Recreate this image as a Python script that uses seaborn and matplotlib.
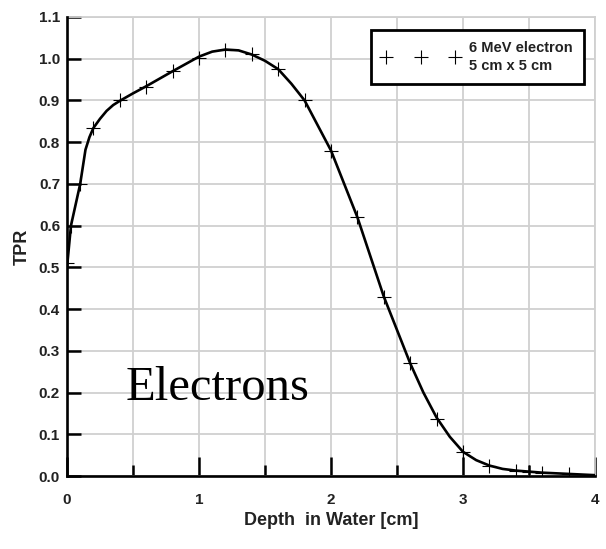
import matplotlib
matplotlib.use("Agg")
import matplotlib.pyplot as plt
from matplotlib.lines import Line2D
from matplotlib.ticker import MultipleLocator, FormatStrFormatter
import seaborn as sns
import pandas as pd

# ---- data ----
marker_depth = [0.0, 0.03, 0.1, 0.2, 0.4, 0.6, 0.8, 1.0, 1.2, 1.4, 1.6, 1.8,
                2.0, 2.2, 2.4, 2.6, 2.8, 3.0, 3.2, 3.4, 3.5, 3.6, 3.8]
marker_tpr = [0.51, 0.60, 0.70, 0.835, 0.90, 0.933, 0.97, 1.002, 1.02, 1.012,
              0.975, 0.90, 0.78, 0.62, 0.43, 0.27, 0.137, 0.057, 0.025, 0.012,
              0.010, 0.008, 0.005]

curve_depth = [0.0, 0.03, 0.1, 0.14, 0.17, 0.2, 0.25, 0.3, 0.35, 0.4, 0.5,
               0.6, 0.8, 1.0, 1.1, 1.2, 1.3, 1.4, 1.5, 1.6, 1.7, 1.8, 2.0,
               2.2, 2.4, 2.6, 2.7, 2.8, 2.9, 3.0, 3.1, 3.2, 3.3, 3.4, 3.6,
               3.8, 4.0]
curve_tpr = [0.50, 0.60, 0.70, 0.782, 0.812, 0.834, 0.856, 0.875, 0.889,
             0.899, 0.917, 0.934, 0.97, 1.005, 1.017, 1.022, 1.02, 1.01,
             0.995, 0.975, 0.94, 0.90, 0.78, 0.62, 0.43, 0.27, 0.20, 0.14,
             0.094, 0.058, 0.038, 0.025, 0.017, 0.013, 0.008, 0.005, 0.002]

legend_label = "6 MeV electron\n5 cm x 5 cm"
x_label = "Depth  in Water [cm]"
y_label = "TPR"
annotation = "Electrons"

curve_df = pd.DataFrame({"depth": curve_depth, "tpr": curve_tpr})
marker_df = pd.DataFrame({"depth": marker_depth, "tpr": marker_tpr})

sns.set_style("white")
plt.rcParams["font.family"] = ["Liberation Sans", "DejaVu Sans"]

fig = plt.figure(figsize=(6.06, 5.49), dpi=100)
ax = fig.add_axes([67 / 606, 1 - 476 / 549, 528 / 606, 459 / 549])

grid_color = "#d0d0d0"

sns.lineplot(data=curve_df, x="depth", y="tpr", ax=ax, color="black",
             linewidth=1.9, zorder=3)
sns.scatterplot(data=marker_df, x="depth", y="tpr", ax=ax, marker="+",
                color="black", s=110, linewidth=0.8, zorder=4)

ax.set_xlim(0, 4)
ax.set_ylim(0, 1.1)

ax.xaxis.set_major_locator(MultipleLocator(1))
ax.xaxis.set_minor_locator(MultipleLocator(0.5))
ax.yaxis.set_major_locator(MultipleLocator(0.1))
ax.yaxis.set_major_formatter(FormatStrFormatter("%.1f"))
ax.xaxis.set_major_formatter(FormatStrFormatter("%d"))

ax.grid(True, which="both", color=grid_color, linewidth=1.3, zorder=0)
ax.set_axisbelow(True)

ax.tick_params(axis="x", which="major", direction="in", length=14, width=1.8,
               color="black", pad=12, labelsize=11, bottom=True)
ax.tick_params(axis="x", which="minor", direction="in", length=8, width=1.8,
               color="black", bottom=True)
ax.tick_params(axis="y", which="major", direction="in", length=10, width=1.8,
               color="black", pad=5, labelsize=11, left=True)
for lab in ax.get_xticklabels() + ax.get_yticklabels():
    lab.set_fontweight("bold")
    lab.set_color("#222222")

for side in ("left", "bottom"):
    ax.spines[side].set_color("black")
    ax.spines[side].set_linewidth(1.9)
    ax.spines[side].set_zorder(5)
for side in ("top", "right"):
    ax.spines[side].set_color(grid_color)
    ax.spines[side].set_linewidth(1.3)

ax.set_xlabel(x_label, fontsize=13, fontweight="bold", labelpad=4,
              color="#222222")
ax.set_ylabel(y_label, fontsize=13, fontweight="bold", labelpad=6,
              color="#222222")

ax.text(0.44, 0.182, annotation, family=["Liberation Serif", "DejaVu Serif"],
        fontsize=35, ha="left", va="baseline", color="black", zorder=6)

handle = Line2D([], [], linestyle="none", marker="+", color="black",
                markersize=10, markeredgewidth=0.8)
leg = ax.legend([handle], [legend_label], loc="upper right",
                bbox_to_anchor=((584 - 67) / 528, (476 - 30) / 459),
                borderaxespad=0, numpoints=3, handlelength=5.3,
                handletextpad=0.7, borderpad=0.75, fancybox=False,
                framealpha=1, edgecolor="black",
                prop={"family": "Liberation Sans", "weight": "bold",
                      "size": 10.5})
leg.get_frame().set_linewidth(2.0)
for t in leg.get_texts():
    t.set_linespacing(1.35)
    t.set_color("#222222")

fig.savefig("out.png", dpi=100)
